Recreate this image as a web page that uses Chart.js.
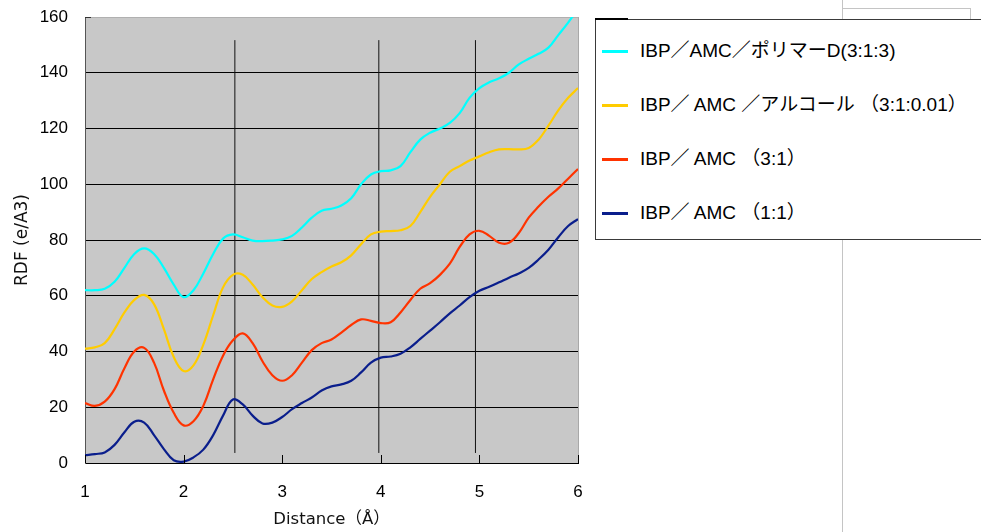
<!DOCTYPE html>
<html>
<head>
<meta charset="utf-8">
<script src="https://cdn.jsdelivr.net/npm/chart.js@4/dist/chart.umd.min.js"></script>
<style>
  html, body { margin: 0; padding: 0; background: #fff; width: 981px; height: 532px; overflow: hidden; }
  #wrap { position: absolute; left: 0; top: 0; width: 600px; height: 532px; }
  .frame { position: absolute; border: 1px solid #c4c4c4; }
  .vline { position: absolute; width: 1px; background: #c4c4c4; }
  #legend {
    position: absolute; left: 595px; top: 19px; width: 420px; height: 221px;
    border: 1px solid #3a3a3a; background: #fff; box-sizing: border-box;
    padding-top: 4px;
    font-family: "Liberation Sans", "Noto Sans CJK JP", sans-serif; font-size: 19px; color: #000;
  }
  #legend .corner { position: absolute; left: -1px; top: -2px; width: 33px; height: 2px; background: #000; }
  #legend .row { position: relative; height: 54px; line-height: 54px; white-space: nowrap; }
  #legend .swatch { position: absolute; left: 6px; top: 26px; width: 26px; height: 2.5px; }
  #legend .text { position: absolute; left: 44px; top: 0; }
</style>
</head>
<body>
<div class="vline" style="left:842px; top:0; height:532px;"></div>
<div class="frame" style="left:842px; top:8px; width:127px; height:227px;"></div>
<div id="wrap"><canvas id="rdf"></canvas></div>
<div id="legend"><div class="corner"></div></div>

<script>
// Radial distribution functions vs. distance (Å), sampled every 0.1 Å
const distances = [
  1.0, 1.1, 1.2, 1.3, 1.4, 1.5, 1.6, 1.7, 1.8, 1.9,
  2.0, 2.1, 2.2, 2.3, 2.4, 2.5, 2.6, 2.7, 2.8, 2.9,
  3.0, 3.1, 3.2, 3.3, 3.4, 3.5, 3.6, 3.7, 3.8, 3.9,
  4.0, 4.1, 4.2, 4.3, 4.4, 4.5, 4.6, 4.7, 4.8, 4.9,
  5.0, 5.1, 5.2, 5.3, 5.4, 5.5, 5.6, 5.7, 5.8, 5.9, 6.0
];

const seriesNames = [
  'IBP／AMC／ポリマーD(3:1:3)',
  'IBP／ AMC ／アルコール （3:1:0.01）',
  'IBP／ AMC （3:1）',
  'IBP／ AMC （1:1）'
];

const rdfPolymerD = [
  62, 62, 62.5, 65, 70, 75, 77, 75, 70, 64,
  59.5, 62, 68, 75, 80.5, 82, 81, 79.8, 79.6, 79.8,
  80.2, 81.5, 84.5, 88, 90.5, 91.2, 92.4, 95, 100, 103.5,
  104.7, 105, 106.5, 111.5, 116, 118.5, 120, 122, 125.5, 131,
  134.5, 136.6, 138, 140, 143, 145, 146.8, 149, 153.5, 158, 163
];

const rdfAlcohol = [
  41, 41.5, 43, 48, 54, 58.5, 60.3, 57, 48, 38,
  33, 35, 42.5, 53, 63, 67.5, 67.5, 64, 59.5, 56.5,
  56, 58, 62, 66, 68.5, 70.5, 72, 74.5, 78.5, 82,
  83, 83.2, 83.5, 85, 90, 95.5, 100, 104.5, 106.5, 108.5,
  110, 111.5, 112.5, 112.6, 112.5, 113, 116, 121, 126.5, 131, 134.5
];

const rdf31 = [
  21.5, 20.5, 22, 26.5, 34, 40, 41.3, 36, 26, 18,
  13.5, 15, 20.5, 30, 38.5, 44, 46.5, 43, 36.5, 31.5,
  29.5, 31.5, 36, 40.5, 43, 44.3, 46.8, 49.5, 51.5, 51,
  50.2, 50.5, 54, 58.5, 62.5, 64.5, 67.5, 71.5, 77.5, 82,
  83.3, 81.5, 79, 79, 82.5, 88, 92, 95.5, 98.5, 102, 105.5
];

const rdf11 = [
  2.8, 3.2, 3.8, 6.5, 11, 14.8, 14.5, 10, 5, 1,
  0.5, 2, 4.8, 10, 17, 22.8, 21, 17, 14.2, 14.5,
  16.5, 19.3, 21.5, 23.5, 26, 27.5, 28.2, 29.5, 32.5, 36,
  37.8, 38.2, 39.2, 41.5, 44.5, 47.5, 50.5, 53.7, 56.5, 59.5,
  61.8, 63.2, 64.8, 66.5, 68, 70, 73, 76.5, 81, 85, 87.5
];

const seriesColors = ['#00ffff', '#ffcc00', '#ff3300', '#0a1e8c'];

// vertical reference lines (distance) and their vertical extent (RDF)
const markerDistances = [2.52, 3.98, 4.96];
const markerSpan = [3.6, 151.7];

const xTicks = [1, 2, 3, 4, 5, 6];
const yTicks = [0, 20, 40, 60, 80, 100, 120, 140, 160];

const toPoints = vals => distances.map((d, i) => ({ x: d, y: vals[i] }));

const curveSets = [rdfPolymerD, rdfAlcohol, rdf31, rdf11].map((vals, i) => ({
  label: seriesNames[i],
  data: toPoints(vals),
  borderColor: seriesColors[i],
  backgroundColor: seriesColors[i],
  borderWidth: 2.2,
  pointRadius: 0,
  tension: 0.4,
  fill: false
}));

const markerSets = markerDistances.map(d => ({
  label: '',
  isMarker: true,
  data: markerSpan.map(v => ({ x: d, y: v })),
  borderColor: '#111',
  borderWidth: 1,
  pointRadius: 0,
  tension: 0,
  fill: false
}));

// grey plot background, right edge and inward x-axis tick marks
const plotDecor = {
  id: 'plotDecor',
  beforeDraw(chart) {
    const { ctx, chartArea: a } = chart;
    ctx.save();
    ctx.fillStyle = '#c8c8c8';
    ctx.fillRect(a.left, a.top, a.right - a.left, a.bottom - a.top);
    ctx.restore();
  },
  afterDraw(chart) {
    const { ctx, chartArea: a, scales } = chart;
    ctx.save();
    ctx.strokeStyle = '#a8a8a8';
    ctx.lineWidth = 1;
    ctx.beginPath();
    ctx.moveTo(Math.round(a.right) + 0.5, a.top);
    ctx.lineTo(Math.round(a.right) + 0.5, a.bottom);
    ctx.stroke();
    ctx.strokeStyle = '#333';
    ctx.beginPath();
    ctx.moveTo(a.left, Math.round(a.top) + 0.5);
    ctx.lineTo(a.left + 6, Math.round(a.top) + 0.5);
    ctx.stroke();
    ctx.strokeStyle = '#000';
    ctx.beginPath();
    xTicks.forEach(v => {
      const px = Math.round(scales.x.getPixelForValue(v)) + 0.5;
      ctx.moveTo(px, a.bottom);
      ctx.lineTo(px, a.bottom - 8);
    });
    ctx.stroke();
    ctx.restore();
  }
};

Chart.defaults.font.family = '"Liberation Sans", "Noto Sans CJK JP", sans-serif';
Chart.defaults.color = '#000';

const chart = new Chart(document.getElementById('rdf'), {
  type: 'line',
  data: { datasets: [...curveSets, ...markerSets] },
  options: {
    responsive: true,
    maintainAspectRatio: false,
    animation: false,
    layout: { padding: { top: 17, right: 22, bottom: 0, left: 0 } },
    plugins: { legend: { display: false }, tooltip: { enabled: false } },
    scales: {
      x: {
        type: 'linear',
        min: 1, max: 6,
        afterBuildTicks: s => { s.ticks = xTicks.map(v => ({ value: v })); },
        afterFit: s => { s.height = 69; s.paddingLeft = 0; s.paddingRight = 0; },
        grid: { display: false, drawTicks: false },
        border: { color: '#000', width: 1 },
        ticks: { padding: 19, font: { size: 17 }, color: '#000' },
        title: {
          display: true, text: 'Distance（Å）',
          font: { size: 16.5, family: '"DejaVu Sans", "Noto Sans CJK JP", sans-serif' },
          color: '#111', padding: { top: 0, bottom: 2 }
        }
      },
      y: {
        min: 0, max: 160,
        afterBuildTicks: s => { s.ticks = yTicks.map(v => ({ value: v })); },
        afterFit: s => { s.width = 85; s.paddingTop = 0; s.paddingBottom = 0; },
        grid: {
          drawTicks: false,
          color: c => (c.tick && c.tick.value === 160) ? '#b0b0b0' : '#000',
          lineWidth: 1
        },
        border: { color: '#555', width: 1 },
        ticks: { padding: 17, font: { size: 17 }, color: '#000' },
        title: {
          display: true, text: 'RDF (e/A3)',
          font: { size: 17, family: '"DejaVu Sans", sans-serif' },
          color: '#111', padding: { top: 12, bottom: 0 }
        }
      }
    }
  },
  plugins: [plotDecor]
});

// legend box built from the chart's own datasets
const legendBox = document.getElementById('legend');
chart.data.datasets.filter(ds => !ds.isMarker).forEach(ds => {
  const row = document.createElement('div');
  row.className = 'row';
  const sw = document.createElement('span');
  sw.className = 'swatch';
  sw.style.background = ds.borderColor;
  const tx = document.createElement('span');
  tx.className = 'text';
  tx.textContent = ds.label;
  row.appendChild(sw);
  row.appendChild(tx);
  legendBox.appendChild(row);
});
</script>
</body>
</html>
